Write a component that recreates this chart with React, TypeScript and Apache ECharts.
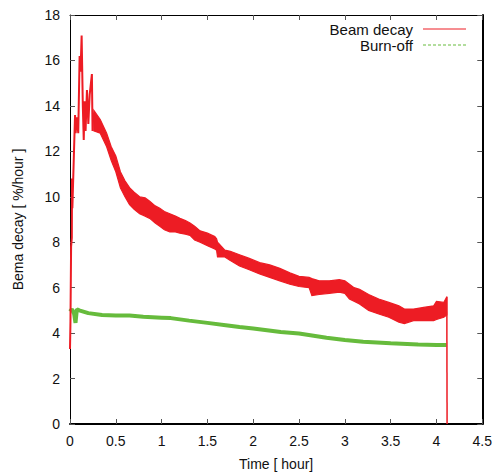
import React, { useEffect, useRef } from "react";
import * as echarts from "echarts";

// ---- data ----
const xTicks = [0, 0.5, 1, 1.5, 2, 2.5, 3, 3.5, 4, 4.5];
const yTicks = [0, 2, 4, 6, 8, 10, 12, 14, 16, 18];

// Beam decay: early spiky part (thin line)
const redEarlyT = [0.0, 0.005, 0.012, 0.02, 0.022, 0.026, 0.04, 0.055, 0.062, 0.075, 0.09, 0.105, 0.115, 0.127, 0.14, 0.15, 0.16, 0.17, 0.185, 0.2, 0.215, 0.239, 0.246, 0.255, 0.265];
const redEarlyV = [3.3, 4.5, 7.8, 8.2, 10.8, 9.5, 11.5, 13.6, 12.8, 13.5, 12.8, 16.2, 15.5, 17.1, 14.0, 12.5, 14.2, 12.9, 14.7, 13.2, 14.5, 15.4, 12.9, 13.7, 13.3];

// Beam decay: noisy band (lower / upper envelope)
const redBandT = [0.26, 0.33, 0.4, 0.45, 0.5, 0.55, 0.6, 0.65, 0.7, 0.76, 0.82, 0.87, 0.93, 0.98, 1.03, 1.09, 1.15, 1.2, 1.26, 1.31, 1.36, 1.42, 1.5, 1.58, 1.6, 1.61, 1.69, 1.75, 1.85, 1.95, 2.07, 2.18, 2.29, 2.4, 2.5, 2.61, 2.64, 2.72, 2.83, 2.94, 3.0, 3.05, 3.1, 3.16, 3.26, 3.37, 3.48, 3.59, 3.65, 3.75, 3.86, 3.97, 4.0, 4.08, 4.113];
const redLow = [12.9, 12.8, 12.2, 11.6, 11.1, 10.4, 10.0, 9.65, 9.45, 9.25, 9.15, 9.05, 8.85, 8.7, 8.55, 8.45, 8.45, 8.4, 8.35, 8.3, 8.1, 8.0, 7.85, 7.7, 7.65, 7.35, 7.35, 7.2, 6.95, 6.8, 6.6, 6.45, 6.3, 6.15, 6.05, 6.0, 5.65, 5.7, 5.75, 5.8, 5.75, 5.5, 5.4, 5.28, 5.0, 4.84, 4.7, 4.48, 4.42, 4.55, 4.55, 4.55, 4.6, 4.7, 4.8];
const redHigh = [13.8, 13.4, 12.8, 12.2, 11.8, 11.1, 10.7, 10.4, 10.2, 10.0, 9.95, 9.8, 9.6, 9.5, 9.35, 9.25, 9.15, 9.05, 8.95, 8.85, 8.7, 8.5, 8.4, 8.25, 8.15, 8.0, 7.65, 7.6, 7.45, 7.3, 7.1, 7.0, 6.85, 6.65, 6.5, 6.45, 6.4, 6.3, 6.3, 6.35, 6.3, 6.15, 6.0, 5.93, 5.7, 5.5, 5.35, 5.2, 5.06, 5.06, 5.13, 5.2, 5.4, 5.35, 5.6];

// Beam decay: final drop
const redTailT = [4.113, 4.116];
const redTailV = [5.6, 0];

// Burn-off
const greenT = [0, 0.02, 0.045, 0.06, 0.075, 0.1, 0.2, 0.35, 0.5, 0.65, 0.8, 1.0, 1.1, 1.3, 1.5, 1.7, 1.85, 2.0, 2.3, 2.5, 2.8, 3.0, 3.2, 3.5, 3.8, 4.0, 4.11];
const greenV = [4.95, 5.05, 4.85, 4.45, 5.05, 5.0, 4.88, 4.8, 4.78, 4.77, 4.72, 4.68, 4.66, 4.55, 4.45, 4.35, 4.27, 4.2, 4.05, 3.98, 3.8, 3.7, 3.62, 3.55, 3.5, 3.48, 3.48];

const RED = "#ed1c24";
const GREEN = "#66bb3c";
const FONT = "Liberation Sans, Arial, Helvetica, sans-serif";

const zip = (a: number[], b: number[]) => a.map((v, i) => [v, b[i]]);

export default function App() {
  const ref = useRef<HTMLDivElement>(null);
  useEffect(() => {
    document.body.style.margin = "0";
    if (!ref.current) return;
    const chart = echarts.init(ref.current, null, { renderer: "svg" });
    const tickStyle = { show: true, inside: true, length: 5, lineStyle: { color: "#555", width: 1 } };
    const option: any = {
      animation: false,
      backgroundColor: "#fff",
      grid: { left: 70, right: 11.5, top: 15, bottom: 46, containLabel: false },
      xAxis: [
        {
          type: "value",
          min: xTicks[0],
          max: xTicks[xTicks.length - 1],
          interval: 0.5,
          position: "bottom",
          name: "Time [ hour]",
          nameLocation: "middle",
          nameGap: 33,
          nameTextStyle: { fontFamily: FONT, fontSize: 14, color: "#111" },
          axisLine: { show: true, onZero: false, lineStyle: { color: "#000", width: 2 } },
          axisTick: tickStyle,
          axisLabel: { fontFamily: FONT, fontSize: 14, color: "#111", margin: 10 },
          splitLine: { show: false },
        },
        {
          type: "value",
          min: xTicks[0],
          max: xTicks[xTicks.length - 1],
          interval: 0.5,
          position: "top",
          axisLine: { show: true, onZero: false, lineStyle: { color: "#000", width: 1 } },
          axisTick: tickStyle,
          axisLabel: { show: false },
          splitLine: { show: false },
        },
      ],
      yAxis: [
        {
          type: "value",
          min: yTicks[0],
          max: yTicks[yTicks.length - 1],
          interval: 2,
          position: "left",
          name: "Bema decay [ %/hour ]",
          nameLocation: "middle",
          nameGap: 45,
          nameTextStyle: { fontFamily: FONT, fontSize: 14, color: "#111" },
          axisLine: { show: true, onZero: false, lineStyle: { color: "#000", width: 1 } },
          axisTick: tickStyle,
          axisLabel: { fontFamily: FONT, fontSize: 14, color: "#111", margin: 10 },
          splitLine: { show: false },
        },
        {
          type: "value",
          min: yTicks[0],
          max: yTicks[yTicks.length - 1],
          interval: 2,
          position: "right",
          axisLine: { show: true, onZero: false, lineStyle: { color: "#000", width: 2 } },
          axisTick: tickStyle,
          axisLabel: { show: false },
          splitLine: { show: false },
        },
      ],
      series: [
        {
          name: "Burn-off",
          type: "line",
          data: zip(greenT, greenV),
          symbol: "none",
          lineStyle: { color: GREEN, width: 4 },
          z: 2,
        },
        {
          name: "Beam decay",
          type: "custom",
          data: [0],
          z: 3,
          renderItem: (_params: any, api: any) => {
            const upper = redBandT.map((t, i) => api.coord([t, redHigh[i]]));
            const lower = redBandT.map((t, i) => api.coord([t, redLow[i]])).reverse();
            return {
              type: "polygon",
              shape: { points: upper.concat(lower) },
              style: { fill: RED, stroke: RED, lineWidth: 1.2 },
            };
          },
        },
        {
          name: "Beam decay",
          type: "line",
          data: zip(redEarlyT, redEarlyV),
          symbol: "none",
          lineStyle: { color: RED, width: 2 },
          z: 3,
        },
        {
          name: "Beam decay",
          type: "line",
          data: zip(redTailT, redTailV),
          symbol: "none",
          lineStyle: { color: RED, width: 1.5 },
          z: 3,
        },
      ],
      graphic: [
        {
          type: "text",
          x: 413,
          y: 29,
          style: { text: "Beam decay", fill: "#111", font: `15px ${FONT}`, align: "right", verticalAlign: "middle" },
        },
        {
          type: "line",
          shape: { x1: 423, y1: 29, x2: 466, y2: 29 },
          style: { stroke: RED, lineWidth: 1 },
        },
        {
          type: "text",
          x: 413,
          y: 45,
          style: { text: "Burn-off", fill: "#111", font: `15px ${FONT}`, align: "right", verticalAlign: "middle" },
        },
        {
          type: "line",
          shape: { x1: 423, y1: 45, x2: 466, y2: 45 },
          style: { stroke: GREEN, lineWidth: 1, lineDash: [3, 2] },
        },
      ],
    };
    chart.setOption(option);
    return () => chart.dispose();
  }, []);
  return <div ref={ref} style={{ position: "fixed", left: 0, top: 0, width: 495, height: 476 }} />;
}
